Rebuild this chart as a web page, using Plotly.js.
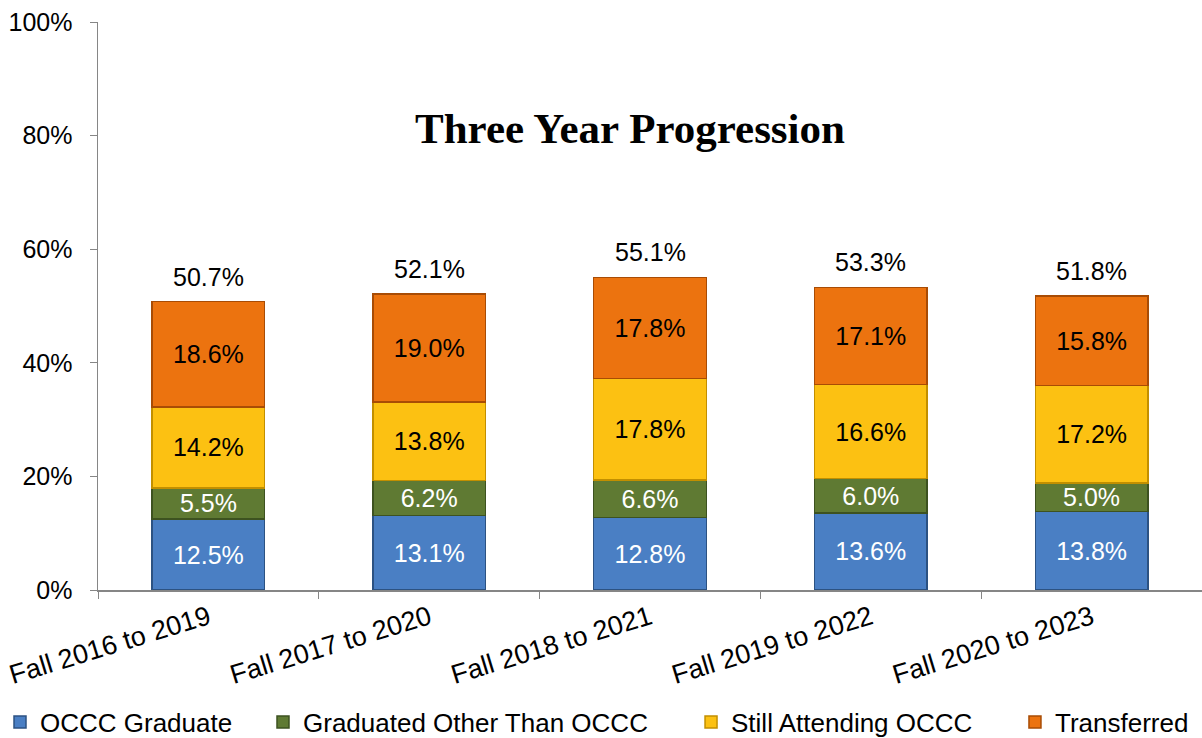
<!DOCTYPE html>
<html>
<head>
<meta charset="utf-8">
<script src="https://cdn.plot.ly/plotly-3.0.1.min.js"></script>
<style>html,body{margin:0;padding:0;background:#fff;}#chart{width:1202px;height:738px;}</style>
</head>
<body>
<div id="chart"></div>
<script>
const categories = ["Fall 2016 to 2019", "Fall 2017 to 2020", "Fall 2018 to 2021", "Fall 2019 to 2022", "Fall 2020 to 2023"];
const occcGraduate = [12.5, 13.1, 12.8, 13.6, 13.8];
const graduatedOther = [5.5, 6.2, 6.6, 6.0, 5.0];
const stillAttending = [14.2, 13.8, 17.8, 16.6, 17.2];
const transferred = [18.6, 19.0, 17.8, 17.1, 15.8];
const totals = [50.7, 52.1, 55.1, 53.3, 51.8];
const seriesNames = ["OCCC Graduate", "Graduated Other Than OCCC", "Still Attending OCCC", "Transferred"];
const yTicks = [0, 20, 40, 60, 80, 100];

const FONT = "Liberation Sans, Arial, sans-serif";
const series = [occcGraduate, graduatedOther, stillAttending, transferred];
const fills = ["#4a7fc4", "#5f7a33", "#fcc112", "#ec730f"];
const edges = ["#2c5282", "#3d5220", "#c28f00", "#a84c05"];
const textColors = ["#ffffff", "#ffffff", "#000000", "#000000"];
const legendNames = ["legend", "legend2", "legend3", "legend4"];
const legendX = [0, 0.2188, 0.5749, 0.8444];

const traces = series.map((vals, i) => ({
  type: "bar",
  name: seriesNames[i],
  x: categories,
  y: vals,
  text: vals.map(v => v.toFixed(1) + "%"),
  textposition: "inside",
  insidetextanchor: "middle",
  textangle: 0,
  constraintext: "none",
  textfont: {family: FONT, size: 25, color: textColors[i]},
  marker: {color: fills[i], line: {color: edges[i], width: 1.5}},
  hoverinfo: "skip",
  legend: legendNames[i]
}));

const annotations = categories.map((c, i) => ({
  x: c, y: totals[i], xref: "x", yref: "y",
  text: totals[i].toFixed(1) + "%",
  showarrow: false, yanchor: "bottom", yshift: 9,
  font: {family: FONT, size: 25, color: "#000"}
}));
annotations.push({
  xref: "paper", yref: "paper", x: 0.4815, y: 0.813,
  xanchor: "center", yanchor: "middle",
  text: "<b>Three Year Progression</b>", showarrow: false,
  font: {family: "Liberation Serif, Times New Roman, serif", size: 43, color: "#000"}
});

const layout = {
  width: 1202, height: 738,
  margin: {l: 98, r: 0, t: 22, b: 148, autoexpand: false},
  paper_bgcolor: "#fff", plot_bgcolor: "#fff",
  barmode: "stack",
  bargap: 0.49,
  showlegend: true,
  uniformtext: {mode: "show", minsize: 25},
  xaxis: {
    type: "category",
    automargin: false,
    tickangle: -17,
    tickson: "boundaries",
    ticks: "outside", ticklen: 7, tickcolor: "#868686",
    showline: true, linecolor: "#868686", linewidth: 1.5,
    showgrid: false, zeroline: false,
    tickfont: {family: FONT, size: 27, color: "#000"}
  },
  yaxis: {
    range: [0, 100],
    automargin: false,
    tickvals: yTicks,
    ticktext: yTicks.map(v => v + "%"),
    ticks: "outside", ticklen: 7, tickcolor: "#868686",
    ticklabelstandoff: 12,
    showline: true, linecolor: "#868686", linewidth: 1.5,
    showgrid: false, zeroline: false,
    tickfont: {family: FONT, size: 25, color: "#000"}
  },
  annotations: annotations,
  font: {family: FONT, size: 25, color: "#000"}
};
legendNames.forEach((ln, i) => {
  layout[ln] = {
    orientation: "h", xref: "container", yref: "container",
    x: legendX[i], xanchor: "left",
    y: 0.0217, yanchor: "middle",
    font: {family: FONT, size: 26, color: "#000"},
    bgcolor: "rgba(0,0,0,0)"
  };
});

Plotly.newPlot("chart", traces, layout, {displayModeBar: false, staticPlot: true});
</script>
</body>
</html>
